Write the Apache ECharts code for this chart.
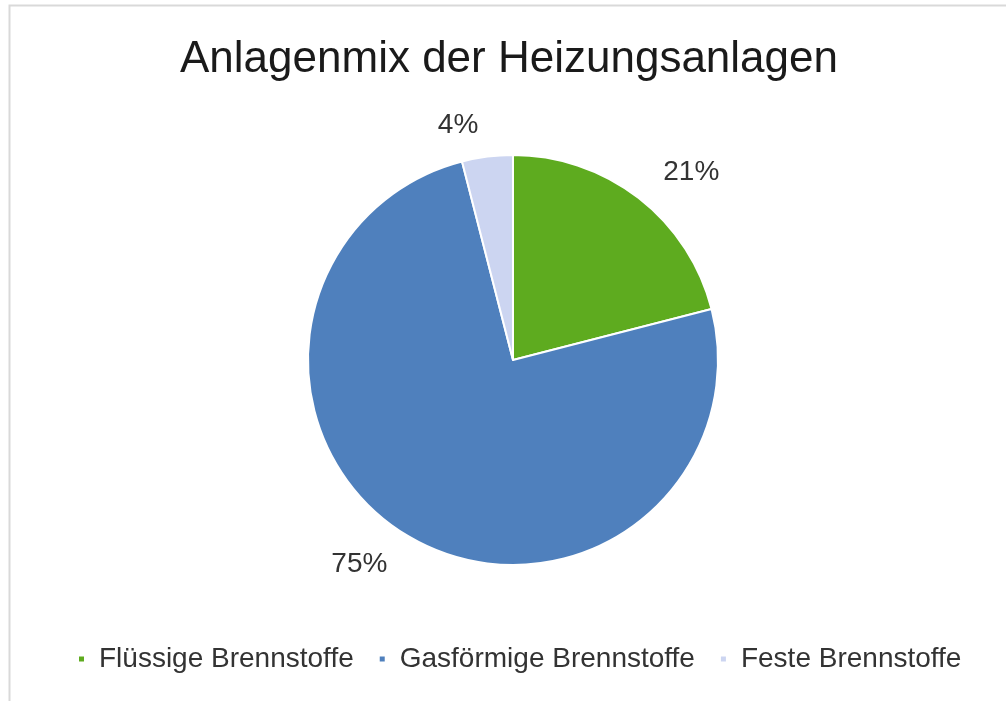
<!DOCTYPE html>
<html>
<head>
<meta charset="utf-8">
<style>
  html, body { margin: 0; padding: 0; background: #fff; }
  #chart { width: 1006px; height: 701px; }
</style>
<script src="https://cdn.jsdelivr.net/npm/echarts@6/dist/echarts.min.js"></script>
</head>
<body>
<div id="chart"></div>
<script>
// Anteile der Heizungsanlagen (in %)
const categories = ['Flüssige Brennstoffe', 'Gasförmige Brennstoffe', 'Feste Brennstoffe']
const shares = [21, 75, 4]
const colors = ['#5eab1f', '#4f80bd', '#ccd5f1']

const chart = echarts.init(document.getElementById('chart'))

const option = {
  backgroundColor: '#fff',
  textStyle: { fontFamily: 'Liberation Sans, Arial, sans-serif' },
  color: colors,
  graphic: [
    {
      type: 'rect',
      shape: { x: 9.5, y: 5.5, width: 1020, height: 720 },
      style: { fill: 'none', stroke: '#d9d9d9', lineWidth: 2 },
      silent: true
    }
  ],
  title: {
    text: 'Anlagenmix der Heizungsanlagen',
    left: 175,
    top: 33,
    textStyle: {
      fontSize: 44,
      fontWeight: 'normal',
      color: '#1a1a1a',
      fontFamily: 'Liberation Sans, Arial, sans-serif'
    }
  },
  legend: {
    bottom: 23,
    left: 72,
    icon: 'rect',
    itemWidth: 7,
    itemHeight: 7,
    itemGap: 24,
    textStyle: {
      fontSize: 28,
      color: '#333',
      padding: [0, 0, 0, 9]
    },
    data: categories
  },
  series: [
    {
      type: 'pie',
      center: [513, 360],
      radius: [0, 205],
      startAngle: 90,
      clockwise: true,
      animation: false,
      itemStyle: { borderColor: '#fff', borderWidth: 2 },
      label: {
        show: true,
        position: 'outside',
        formatter: '{c}%',
        fontSize: 28,
        color: '#333'
      },
      labelLine: { show: false, length: 32, length2: 0 },
      data: categories.map((name, i) => ({ name: name, value: shares[i] }))
    }
  ]
}

chart.setOption(option)
</script>
</body>
</html>
